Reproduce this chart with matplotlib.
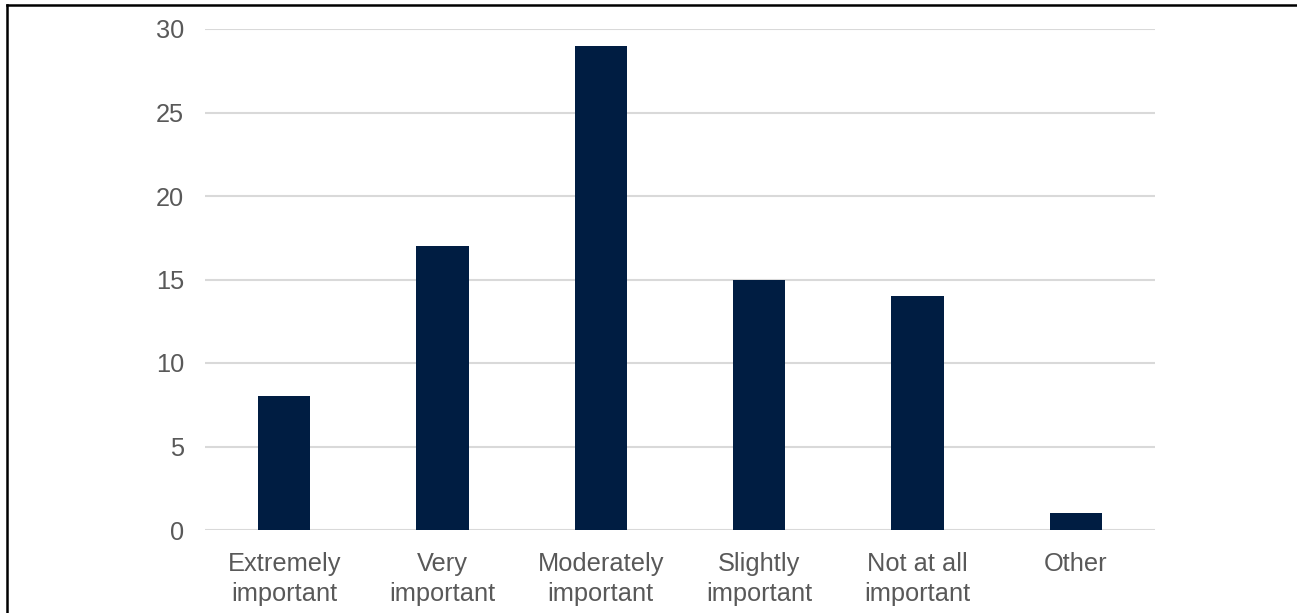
import matplotlib.pyplot as plt
from matplotlib.lines import Line2D

categories = ["Extremely\nimportant", "Very\nimportant", "Moderately\nimportant",
              "Slightly\nimportant", "Not at all\nimportant", "Other"]
counts = [8, 17, 29, 15, 14, 1]
yticks = [0, 5, 10, 15, 20, 25, 30]

W, H = 1297, 613
fig = plt.figure(figsize=(W / 100, H / 100), dpi=100)
ax = fig.add_axes([205 / W, 1 - 530 / H, 950 / W, 501 / H])

plt.rcParams['font.family'] = ['Liberation Sans', 'DejaVu Sans']

x = range(len(categories))
ax.bar(x, counts, width=0.33, color="#001d42", zorder=3)

ax.set_xlim(-0.5, len(categories) - 0.5)
ax.set_ylim(0, 30)
ax.set_yticks(yticks)
ax.set_xticks(list(x))
ax.set_xticklabels(categories, family=['Liberation Sans'], fontsize=18.3,
                   color="#595959", linespacing=1.3)
ax.set_yticklabels([str(v) for v in yticks], family=['Liberation Sans'],
                   fontsize=18.3, color="#595959")
ax.tick_params(axis='both', length=0)
ax.tick_params(axis='y', pad=15)
ax.tick_params(axis='x', pad=16)

ax.grid(axis='y', color="#d9d9d9", linewidth=1.5, zorder=0)
for s in ax.spines.values():
    s.set_visible(False)

# frame lines along the top and left edge
fig.add_artist(Line2D([6.5 / W, 1], [1 - 4.5 / H, 1 - 4.5 / H], color="black", linewidth=1.8))
fig.add_artist(Line2D([6.5 / W, 6.5 / W], [0, 1 - 4.5 / H], color="black", linewidth=1.8))

fig.savefig("out.png", dpi=100)
